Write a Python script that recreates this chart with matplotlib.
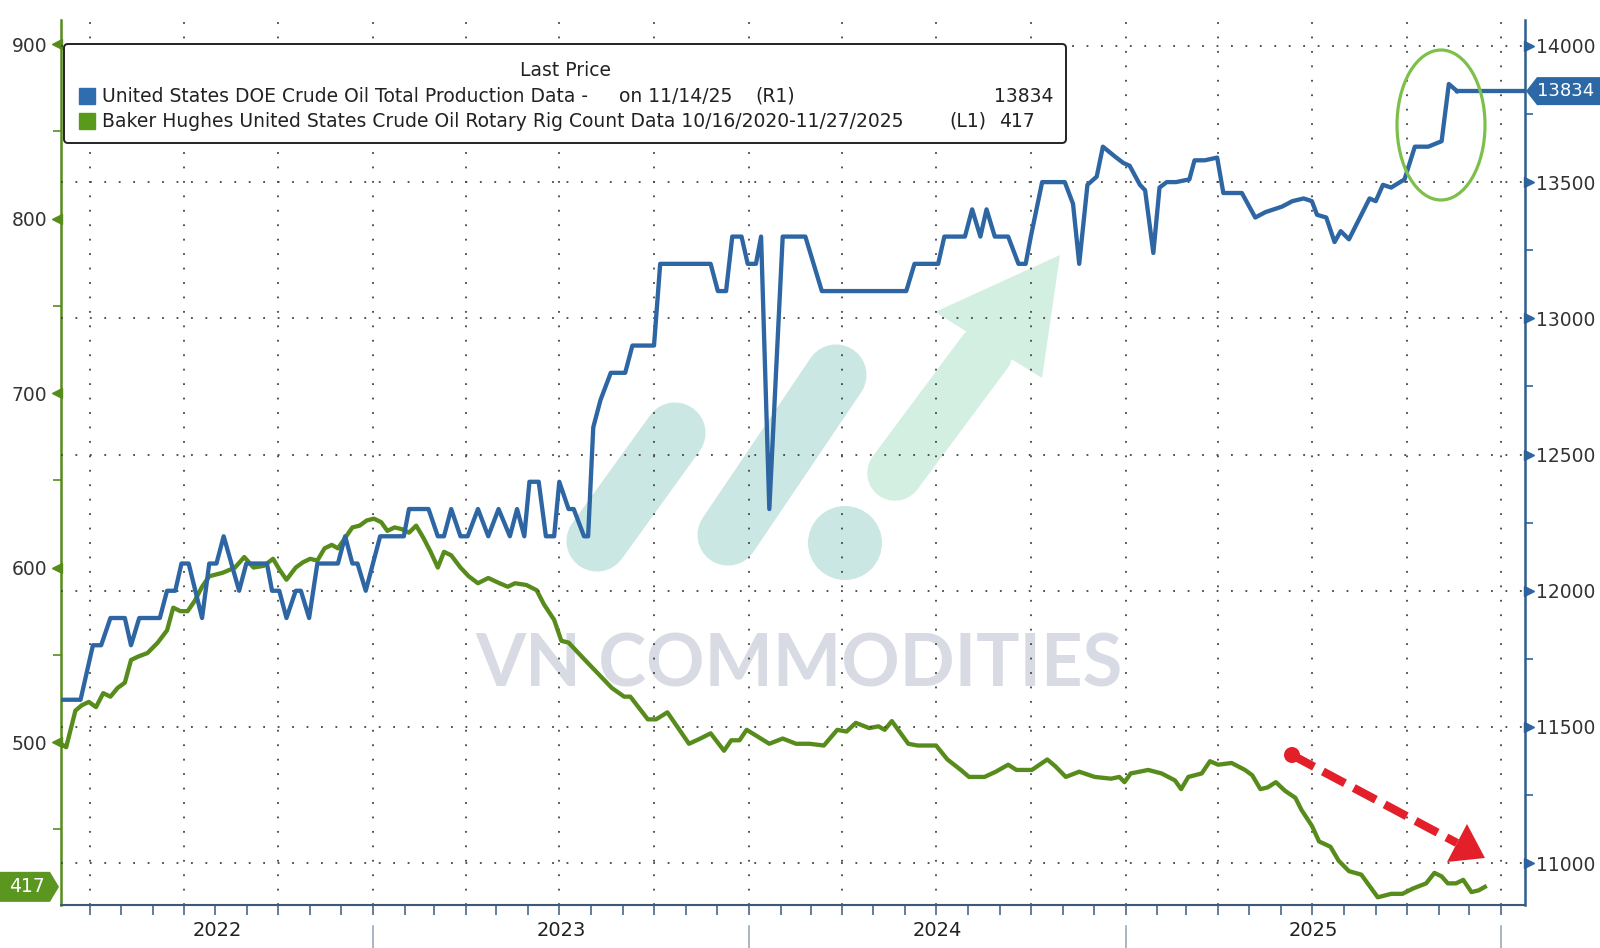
import numpy as np
import pandas as pd
import matplotlib
matplotlib.use("Agg")
import matplotlib.pyplot as plt
import matplotlib.dates as mdates
from matplotlib.patches import Polygon, Ellipse, FancyBboxPatch, Circle, Rectangle
from matplotlib.transforms import blended_transform_factory

plt.rcParams['font.family'] = ['DejaVu Sans']

# US DOE crude oil production (kb/d), right axis
prod_dates = ['2022-03-04', '2022-03-23', '2022-04-04', '2022-04-12', '2022-04-21', '2022-05-05',
              '2022-05-11', '2022-05-19', '2022-06-08', '2022-06-15', '2022-06-23', '2022-06-29',
              '2022-07-06', '2022-07-19', '2022-07-26', '2022-08-02', '2022-08-09', '2022-08-24',
              '2022-08-31', '2022-09-20', '2022-09-25', '2022-10-02', '2022-10-09', '2022-10-18',
              '2022-10-23', '2022-10-31', '2022-11-08', '2022-11-28', '2022-12-05', '2022-12-12',
              '2022-12-17', '2022-12-25', '2023-01-08', '2023-01-31', '2023-02-05', '2023-02-24',
              '2023-03-05', '2023-03-11', '2023-03-18', '2023-03-27', '2023-04-03', '2023-04-13',
              '2023-04-23', '2023-05-03', '2023-05-14', '2023-05-21', '2023-05-28', '2023-06-02',
              '2023-06-11', '2023-06-18', '2023-06-26', '2023-07-01', '2023-07-10', '2023-07-15',
              '2023-07-25', '2023-07-29', '2023-08-03', '2023-08-10', '2023-08-20', '2023-09-03',
              '2023-09-10', '2023-10-01', '2023-10-07', '2023-11-25', '2023-12-02', '2023-12-10',
              '2023-12-16', '2023-12-25', '2023-12-31', '2024-01-08', '2024-01-13', '2024-01-21',
              '2024-02-03', '2024-02-25', '2024-03-12', '2024-06-02', '2024-06-10', '2024-07-03',
              '2024-07-09', '2024-07-29', '2024-08-05', '2024-08-13', '2024-08-19', '2024-08-27',
              '2024-09-09', '2024-09-19', '2024-09-26', '2024-10-01', '2024-10-12', '2024-11-03',
              '2024-11-11', '2024-11-17', '2024-11-25', '2024-12-04', '2024-12-10', '2024-12-23',
              '2024-12-30', '2025-01-05', '2025-01-15', '2025-01-20', '2025-01-28', '2025-02-03',
              '2025-02-10', '2025-02-19', '2025-03-04', '2025-03-09', '2025-03-19', '2025-03-31',
              '2025-04-06', '2025-04-24', '2025-05-07', '2025-05-17', '2025-06-02', '2025-06-12',
              '2025-06-23', '2025-07-01', '2025-07-06', '2025-07-15', '2025-07-23', '2025-07-29',
              '2025-08-06', '2025-08-26', '2025-09-01', '2025-09-08', '2025-09-16', '2025-09-29',
              '2025-10-09', '2025-10-22', '2025-11-04', '2025-11-11', '2025-11-19']
prod_values = [11600, 11600, 11800, 11800, 11900, 11900,
               11800, 11900, 11900, 12000, 12000, 12100,
               12100, 11900, 12100, 12100, 12200, 12000,
               12100, 12100, 12000, 12000, 11900, 12000,
               12000, 11900, 12100, 12100, 12200, 12100,
               12100, 12000, 12200, 12200, 12300, 12300,
               12200, 12200, 12300, 12200, 12200, 12300,
               12200, 12300, 12200, 12300, 12200, 12400,
               12400, 12200, 12200, 12400, 12300, 12300,
               12200, 12200, 12600, 12700, 12800, 12800,
               12900, 12900, 13200, 13200, 13100, 13100,
               13300, 13300, 13200, 13200, 13300, 12300,
               13300, 13300, 13100, 13100, 13200, 13200,
               13300, 13300, 13400, 13300, 13400, 13300,
               13300, 13200, 13200, 13300, 13500, 13500,
               13420, 13200, 13490, 13520, 13630, 13590,
               13570, 13560, 13490, 13470, 13240, 13480,
               13500, 13500, 13510, 13580, 13580, 13590,
               13460, 13460, 13370, 13390, 13410, 13430,
               13440, 13430, 13380, 13370, 13280, 13320,
               13290, 13440, 13430, 13490, 13480, 13510,
               13630, 13630, 13650, 13860, 13834]

# Baker Hughes US oil rig count, left axis
rig_dates = ['2022-03-04', '2022-03-09', '2022-03-18', '2022-03-24', '2022-03-31', '2022-04-07',
             '2022-04-14', '2022-04-21', '2022-04-28', '2022-05-05', '2022-05-11', '2022-05-18',
             '2022-05-27', '2022-06-06', '2022-06-15', '2022-06-21', '2022-06-28', '2022-07-05',
             '2022-07-12', '2022-07-19', '2022-07-26', '2022-08-08', '2022-08-20', '2022-08-29',
             '2022-09-07', '2022-09-17', '2022-09-26', '2022-10-02', '2022-10-09', '2022-10-18',
             '2022-10-25', '2022-11-01', '2022-11-08', '2022-11-15', '2022-11-22', '2022-11-28',
             '2022-12-05', '2022-12-12', '2022-12-19', '2022-12-26', '2023-01-02', '2023-01-09',
             '2023-01-15', '2023-01-22', '2023-01-29', '2023-02-05', '2023-02-12', '2023-02-19',
             '2023-02-26', '2023-03-05', '2023-03-11', '2023-03-18', '2023-03-27', '2023-04-04',
             '2023-04-13', '2023-04-23', '2023-05-04', '2023-05-12', '2023-05-19', '2023-05-30',
             '2023-06-09', '2023-06-16', '2023-06-26', '2023-07-03', '2023-07-10', '2023-07-26',
             '2023-08-08', '2023-08-21', '2023-09-02', '2023-09-08', '2023-09-25', '2023-10-03',
             '2023-10-14', '2023-11-04', '2023-11-15', '2023-11-25', '2023-12-08', '2023-12-15',
             '2023-12-23', '2023-12-30', '2024-01-10', '2024-01-21', '2024-02-03', '2024-02-16',
             '2024-02-29', '2024-03-14', '2024-03-27', '2024-04-05', '2024-04-14', '2024-04-27',
             '2024-05-06', '2024-05-12', '2024-05-19', '2024-06-04', '2024-06-13', '2024-07-01',
             '2024-07-12', '2024-07-25', '2024-08-02', '2024-08-17', '2024-08-28', '2024-09-09',
             '2024-09-17', '2024-10-02', '2024-10-17', '2024-10-25', '2024-11-04', '2024-11-17',
             '2024-12-02', '2024-12-18', '2024-12-26', '2024-12-31', '2025-01-06', '2025-01-23',
             '2025-02-05', '2025-02-18', '2025-02-24', '2025-03-03', '2025-03-16', '2025-03-24',
             '2025-04-01', '2025-04-14', '2025-04-27', '2025-05-04', '2025-05-12', '2025-05-19',
             '2025-05-27', '2025-06-05', '2025-06-15', '2025-06-21', '2025-07-01', '2025-07-08',
             '2025-07-19', '2025-07-27', '2025-08-06', '2025-08-18', '2025-09-03', '2025-09-16',
             '2025-09-27', '2025-10-07', '2025-10-20', '2025-10-28', '2025-11-04', '2025-11-10',
             '2025-11-18', '2025-11-25', '2025-12-03', '2025-12-10', '2025-12-16']
rig_values = [499, 497, 518, 521, 523, 520,
              528, 526, 531, 534, 547, 549,
              551, 557, 564, 577, 575, 575,
              581, 589, 595, 597, 600, 606,
              600, 601, 605, 599, 593, 600,
              603, 605, 604, 611, 613, 611,
              617, 623, 624, 627, 628, 626,
              621, 623, 622, 620, 624, 617,
              609, 600, 609, 607, 600, 595,
              591, 594, 591, 589, 591, 590,
              587, 579, 570, 558, 557, 547,
              539, 531, 526, 526, 513, 513,
              517, 499, 502, 505, 495, 501,
              501, 507, 503, 499, 502, 499,
              499, 498, 507, 506, 511, 508,
              509, 507, 512, 499, 498, 498,
              490, 484, 480, 480, 483, 487,
              484, 484, 490, 486, 480, 483,
              480, 479, 480, 477, 482, 484,
              482, 478, 473, 480, 482, 489,
              487, 488, 484, 481, 473, 474,
              477, 472, 468, 461, 452, 443,
              440, 432, 426, 424, 411, 413,
              413, 416, 419, 425, 423, 419,
              419, 421, 414, 415, 417]

left_ticks = [500, 600, 700, 800, 900]
left_minor = [450, 550, 650, 750, 850]
right_ticks = [11000, 11500, 12000, 12500, 13000, 13500, 14000]
right_minor = [11250, 11750, 12250, 12750, 13250, 13750]
years = ['2022', '2023', '2024', '2025']
year_bounds = ['2023-01-01', '2024-01-01', '2025-01-01', '2026-01-01']

blue = '#2d66a3'
green = '#578c1c'
x_start = mdates.date2num(pd.Timestamp('2022-03-04'))
x_end = mdates.date2num(pd.Timestamp('2026-01-24'))

fig = plt.figure(figsize=(16, 9.48), dpi=100)

# background layer (watermark), pixel coords from top-left
bg = fig.add_axes([0, 0, 1, 1])
bg.set_zorder(0)
bg.set_xlim(0, 1600)
bg.set_ylim(948, 0)
bg.axis('off')

teal = '#cbe7e3'
mint = '#d3efe2'
bg.plot([597, 675], [541, 433], color=teal, lw=44, solid_capstyle='round')
bg.plot([728, 836], [535, 375], color=teal, lw=44, solid_capstyle='round')
bg.add_patch(Circle((845, 543), 37, color=teal, lw=0))
bg.plot([895, 985], [473, 352], color=mint, lw=40, solid_capstyle='round')
bg.add_patch(Polygon([[935, 312], [1060, 255], [1042, 378]], closed=True, color=mint, lw=0))
bg.text(799, 666, 'VN COMMODITIES', fontsize=52, fontweight='bold', family=['Lato', 'DejaVu Sans'],
        color='#d9dbe4', ha='center', va='center')

ax = fig.add_axes([61 / 1600, 43 / 948, 1464 / 1600, 885 / 948])
ax.set_zorder(1)
ax.set_facecolor('none')
ax2 = ax.twinx()
ax2.set_zorder(2)
ax2.patch.set_visible(False)

rig_x = mdates.date2num(pd.to_datetime(rig_dates))
prod_x = mdates.date2num(pd.to_datetime(prod_dates))

ax.plot(rig_x, rig_values, color=green, lw=3.1, solid_joinstyle='round')
ax2.plot(prod_x, prod_values, color=blue, lw=3.1, solid_joinstyle='round')
ax2.plot([prod_x[-1], x_end], [prod_values[-1], prod_values[-1]], color=blue, lw=3.1)

ax.set_xlim(x_start, x_end)
ax.set_ylim(406.6, 913.8)
ax2.set_ylim(10846.6, 14095)

grid_style = dict(color='#444444', lw=1.3, ls=(0, (1, 7)))
ax.xaxis.set_major_locator(mdates.MonthLocator(bymonth=[1, 4, 7, 10]))
ax.xaxis.set_minor_locator(mdates.MonthLocator())
ax.xaxis.set_major_formatter(plt.NullFormatter())
ax.xaxis.grid(True, **grid_style)
ax.tick_params(axis='x', which='both', length=7, width=1.1, color='#3b5a7a', direction='out')

ax.set_yticks(left_ticks)
ax.set_yticks(left_minor, minor=True)
ax.tick_params(axis='y', which='major', length=0, pad=10, labelsize=13.5, labelcolor='#333333')
ax.tick_params(axis='y', which='minor', length=6, width=1.2, color=green, direction='out')

ax2.set_yticks(right_ticks)
ax2.set_yticks(right_minor, minor=True)
ax2.yaxis.grid(True, **grid_style)
ax2.tick_params(axis='y', which='major', length=0, pad=8, labelsize=13.5, labelcolor='#333333')
ax2.tick_params(axis='y', which='minor', length=6, width=1.2, color=blue, direction='out')

trans_l = blended_transform_factory(ax.transAxes, ax.transData)
ax.plot([-0.0028] * len(left_ticks), left_ticks, ls='none', marker='<', ms=7,
        color=green, transform=trans_l, clip_on=False)
trans_r = blended_transform_factory(ax2.transAxes, ax2.transData)
ax2.plot([1.0028] * len(right_ticks), right_ticks, ls='none', marker='>', ms=7,
         color=blue, transform=trans_r, clip_on=False)

ax.spines['top'].set_visible(False)
ax2.spines['top'].set_visible(False)
ax.spines['right'].set_visible(False)
ax.spines['left'].set_color(green)
ax.spines['left'].set_linewidth(1.8)
ax.spines['bottom'].set_color('#3b5a7a')
ax.spines['bottom'].set_linewidth(1.5)
ax2.spines['left'].set_visible(False)
ax2.spines['bottom'].set_visible(False)
ax2.spines['right'].set_color('#2f5f8f')
ax2.spines['right'].set_linewidth(1.8)

# foreground layer: legend, tags, annotations
fg = fig.add_axes([0, 0, 1, 1])
fg.set_zorder(3)
fg.set_xlim(0, 1600)
fg.set_ylim(948, 0)
fg.axis('off')


def to_px(axis, x, y):
    px, py = axis.transData.transform((x, y))
    return px, 948 - py


fg.add_patch(FancyBboxPatch((64, 44), 1002, 99, boxstyle='round,pad=0,rounding_size=4',
                            facecolor='white', edgecolor='#222222', lw=1.4))
fs = 13.5
fg.text(565, 70, 'Last Price', fontsize=fs, ha='center', va='center', color='#222222')
fg.add_patch(Rectangle((79, 88), 16, 16, color='#2e6db0'))
fg.add_patch(Rectangle((79, 113), 16, 16, color='#5a9a1a'))
fg.text(102, 96, 'United States DOE Crude Oil Total Production Data -', fontsize=fs, va='center', color='#222222')
fg.text(619, 96, 'on 11/14/25', fontsize=fs, va='center', color='#222222')
fg.text(755, 96, '(R1)', fontsize=fs, va='center', color='#222222')
fg.text(1054, 96, f'{prod_values[-1]}', fontsize=fs, va='center', ha='right', color='#222222')
fg.text(102, 121, 'Baker Hughes United States Crude Oil Rotary Rig Count Data 10/16/2020-11/27/2025',
        fontsize=fs, va='center', color='#222222')
fg.text(949, 121, '(L1)', fontsize=fs, va='center', color='#222222')
fg.text(999, 121, f'{rig_values[-1]}', fontsize=fs, va='center', color='#222222')

# last value tags
_, yl = to_px(ax, x_start, rig_values[-1])
fg.add_patch(Polygon([[0, yl - 15], [50, yl - 15], [59, yl], [50, yl + 15], [0, yl + 15]],
                     closed=True, color='#5a9620', lw=0, clip_on=False))
fg.text(27, yl, f'{rig_values[-1]}', color='white', fontsize=13.5, ha='center', va='center')
_, yr = to_px(ax2, x_end, prod_values[-1])
fg.add_patch(Polygon([[1526, yr], [1537, yr - 14], [1600, yr - 14], [1600, yr + 14], [1537, yr + 14]],
                     closed=True, color='#2d68a6', lw=0, clip_on=False))
fg.text(1566, yr, f'{prod_values[-1]}', color='white', fontsize=13, ha='center', va='center')

# year separators and labels
bounds_px = [to_px(ax, mdates.date2num(pd.Timestamp(d)), 500)[0] for d in year_bounds]
for b in bounds_px:
    fg.plot([b, b], [926, 948], color='#9aa8b8', lw=1.2, clip_on=False)
edges = [to_px(ax, x_start, 500)[0]] + bounds_px
for i, yr_label in enumerate(years):
    fg.text((edges[i] + edges[i + 1]) / 2, 921, yr_label, fontsize=14, ha='center', va='top',
            color='#222222')

# highlight of the latest jump and falling rig count
fg.add_patch(Ellipse((1441, 125), 88, 150, fill=False, edgecolor='#7cc04a', lw=2.3))
fg.plot([1292, 1457], [755, 843], color='#e3202a', lw=6, ls=(0, (3, 1.2)), solid_capstyle='butt')
fg.add_patch(Circle((1292, 755), 8, color='#e3202a', lw=0))
fg.add_patch(Polygon([[1485, 858], [1447, 862], [1467, 824]], closed=True, color='#e3202a', lw=0))

fig.savefig('out.png', dpi=100)
